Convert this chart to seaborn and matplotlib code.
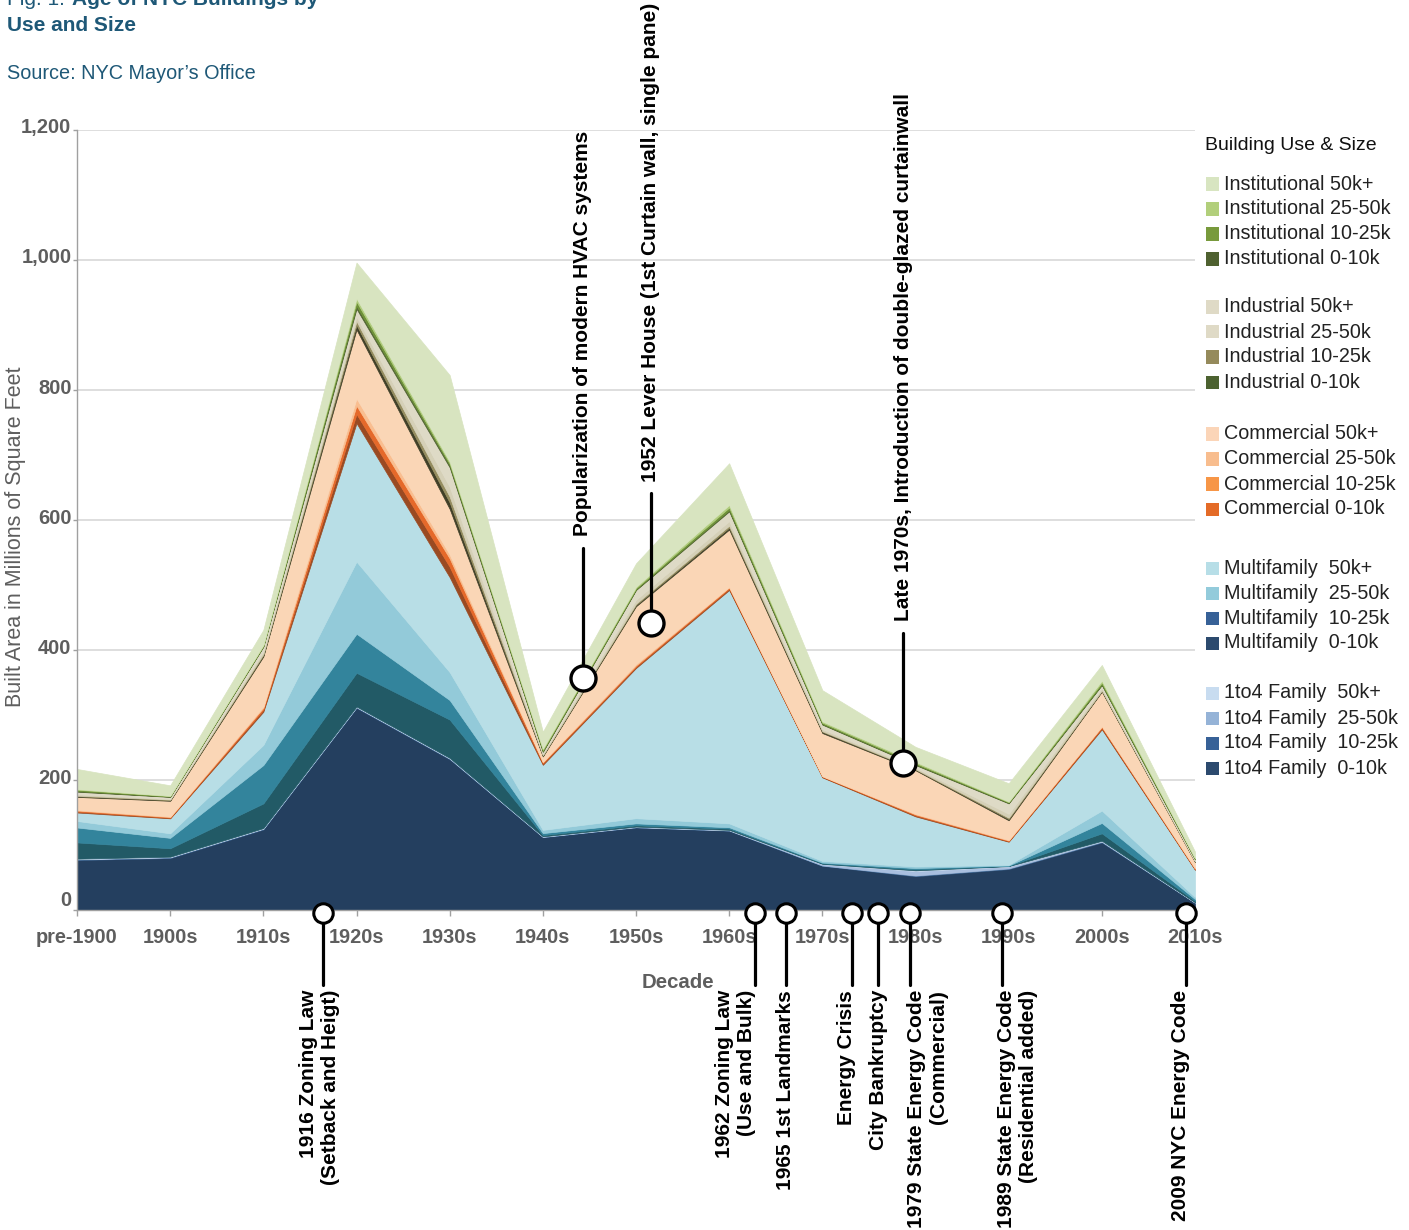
import numpy as np
import matplotlib
matplotlib.use("Agg")
import matplotlib.pyplot as plt
import matplotlib.transforms as mtransforms
from matplotlib.patches import Rectangle
import seaborn as sns

# decades on the x axis
decades = ["pre-1900", "1900s", "1910s", "1920s", "1930s", "1940s", "1950s",
           "1960s", "1970s", "1980s", "1990s", "2000s", "2010s"]

# built area, millions of sq ft, bottom layer first
fam_0_10 = [77, 80, 124, 311, 232, 112, 127, 122, 68, 52, 63, 104, 11]
fam_10_25 = [1, 1, 1, 1, 1, 0.5, 0.5, 0.5, 0.5, 1, 1, 1, 0.3]
fam_25_50 = [0.5, 0.5, 0.5, 0.5, 0.5, 0.5, 0.5, 0.5, 2, 7, 3, 1, 0.3]
fam_50k = [0.5, 0.5, 0.5, 0.5, 0.5, 0.3, 0.3, 0.3, 0.5, 1, 0.5, 0.5, 0.2]

multi_0_10 = [25, 13, 38, 52, 59, 2, 2, 2, 1, 1.5, 0.5, 11.5, 2]
multi_10_25 = [23, 16, 59, 60, 30, 3, 3, 2, 1, 2, 0.5, 16, 3]
multi_25_50 = [10, 7, 31, 111, 43, 5, 8, 6, 2.5, 2.5, 1, 19, 3]
multi_50k = [13, 23, 51, 213, 146, 100, 231, 359, 128.5, 77, 35.5, 125, 42]

comm_0_10 = [1.5, 1, 3, 14, 16, 2, 2, 2, 1, 1.5, 1, 2, 1]
comm_10_25 = [1.5, 1, 3, 13, 13, 2, 2, 2, 0.7, 1.5, 1, 2, 1]
comm_25_50 = [1, 1, 2, 11, 6, 1, 2, 1, 0.5, 1, 1, 1, 1]
comm_50k = [20, 24, 77, 106, 70, 8, 89, 88, 66, 67, 30, 53, 9]

ind_0_10 = [1, 1, 2, 7, 10, 1, 2, 3, 2, 1, 2, 1, 0.5]
ind_10_25 = [1, 1, 2, 6, 9, 1, 2, 3, 1, 1, 2, 1, 0.5]
ind_25_50 = [2, 1, 4, 7, 15, 2, 6, 7, 3, 2, 6, 3, 1]
ind_50k = [4, 3, 7, 12, 30, 3, 15, 15, 7, 4, 16, 5, 2]

inst_0_10 = [1, 0.5, 1, 4, 3, 1, 1, 2, 1, 1, 1, 1, 0.5]
inst_10_25 = [2, 0.8, 1, 7, 3, 2, 2, 4, 2, 2, 1, 3, 1]
inst_25_50 = [1, 0.5, 1, 5, 3, 2, 2, 4, 2, 2, 1, 3, 0.5]
inst_50k = [31, 16, 23, 55, 133, 26, 36, 64, 48, 23, 28, 24, 10]

# events
top_event_pos = [5.43, 6.16, 8.87]
top_event_val = [357, 441, 226]
top_event_labels = ["Popularization of modern HVAC systems",
                    "1952 Lever House (1st Curtain wall, single pane)",
                    "Late 1970s, Introduction of double-glazed curtainwall"]

bottom_event_pos = [2.64, 7.28, 7.61, 8.32, 8.60, 8.94, 9.93, 11.9]
bottom_text_dx = [-3, -20, 0, -6, 0, 18, 15, -5]   # px shift of the label
bottom_event_labels = ["1916 Zoning Law\n(Setback and Heigt)",
                       "1962 Zoning Law\n(Use and Bulk)",
                       "1965 1st Landmarks",
                       "Energy Crisis",
                       "City Bankruptcy",
                       "1979 State Energy Code\n(Commercial)",
                       "1989 State Energy Code\n(Residential added)",
                       "2009 NYC Energy Code"]

# legend
group_names = ["Institutional", "Industrial", "Commercial", "Multifamily ", "1to4 Family "]
size_names = ["50k+", "25-50k", "10-25k", "0-10k"]
group_tops = [184, 307, 434, 568, 693]
legend_colors = ["#d8e5c1", "#b2cf7b", "#789a3c", "#4f6130",
                 "#dfdac6", "#dfdac6", "#958a5b", "#4c6230",
                 "#fbd5b8", "#f8bd8e", "#f79647", "#e46b27",
                 "#b7dee7", "#93cbdb", "#376197", "#2c4a6e",
                 "#c8dcf0", "#95b3d7", "#376197", "#2c4a6e"]

fill_colors = ["#243f5f", "#3a6491", "#a9bfdf", "#c8daee",
               "#225a66", "#33849c", "#93cad9", "#b8dee6",
               "#9a4a22", "#e5692a", "#f9be90", "#fad6b6",
               "#403f27", "#958d5f", "#d5d0b7", "#dedac6",
               "#4e6130", "#6e9138", "#b1cd7e", "#d8e4c0"]

layers = [fam_0_10, fam_10_25, fam_25_50, fam_50k,
          multi_0_10, multi_10_25, multi_25_50, multi_50k,
          comm_0_10, comm_10_25, comm_25_50, comm_50k,
          ind_0_10, ind_10_25, ind_25_50, ind_50k,
          inst_0_10, inst_10_25, inst_25_50, inst_50k]

sns.set_theme(style="white")
plt.rcParams["font.family"] = ["Liberation Sans", "DejaVu Sans"]

W, H = 1409, 1230
fig = plt.figure(figsize=(W / 100, H / 100), dpi=100)
ax = fig.add_axes([77 / W, 1 - 910 / H, 1118 / W, 780 / H])

x = np.arange(len(decades))
polys = ax.stackplot(x, *layers, colors=sns.color_palette(fill_colors))
for p, c in zip(polys, fill_colors):
    p.set_edgecolor(c)
    p.set_linewidth(0.5)

ax.set_xlim(0, 12)
ax.set_ylim(0, 1200)
ax.set_axisbelow(True)
ax.yaxis.grid(True, color="#d4d4d4", lw=1.1)
ax.xaxis.grid(False)
for s in ["top", "right"]:
    ax.spines[s].set_visible(False)
for s in ["left", "bottom"]:
    ax.spines[s].set_color("#a0a0a0")
    ax.spines[s].set_linewidth(1)

tick_grey = "#5e5e5e"
ax.set_yticks(range(0, 1201, 200))
ax.set_yticklabels([f"{v:,}" for v in range(0, 1201, 200)])
ax.set_xticks(x)
ax.set_xticklabels(decades)
ax.tick_params(axis="y", left=True, length=3, width=1, color="#a0a0a0", pad=1,
               labelsize=14.5, labelcolor=tick_grey)
ax.tick_params(axis="x", bottom=True, length=4, width=1, color="#a0a0a0", pad=9,
               labelsize=14.3, labelcolor=tick_grey)
for lbl in ax.get_yticklabels() + ax.get_xticklabels():
    lbl.set_fontweight("bold")
for i, lbl in enumerate(ax.get_yticklabels()):
    up = 12 if i == 0 else 4
    lbl.set_transform(lbl.get_transform() + mtransforms.ScaledTranslation(0, up / 100, fig.dpi_scale_trans))

# top event markers
for pos, val, label in zip(top_event_pos, top_event_val, top_event_labels):
    ax.plot([pos, pos], [val, val + 200], color="black", lw=2.3, clip_on=False, zorder=5)
    ax.plot(pos, val, "o", ms=18, mfc="white", mec="black", mew=2.4, clip_on=False, zorder=6)
    ax.text(pos, val + 218, label, rotation=90, ha="center", va="bottom",
            fontsize=15, fontweight="bold", color="black")

# bottom event markers
for pos, dx, label in zip(bottom_event_pos, bottom_text_dx, bottom_event_labels):
    ax.plot([pos, pos], [-5, -115], color="black", lw=2.3, clip_on=False, zorder=5)
    ax.plot(pos, -5, "o", ms=14, mfc="white", mec="black", mew=2.2, clip_on=False, zorder=6)
    ax.annotate(label, xy=(pos, -123), xytext=(dx * 0.72, 0), textcoords="offset points",
                rotation=90, ha="center", va="top", multialignment="right",
                fontsize=15, fontweight="bold", color="black", annotation_clip=False)

# axis titles
fig.text(16 / W, 1 - 537 / H, "Built Area in Millions of Square Feet", rotation=90,
         ha="center", va="center", fontsize=15.5, color=tick_grey)
fig.text(678 / W, 1 - 982 / H, "Decade", ha="center", va="center",
         fontsize=14.7, fontweight="bold", color=tick_grey)

# title block (first line is cut by the top edge, as in the source)
title_blue = "#1e5877"
fig.text(7 / W, 1 - 5 / H, "Fig. 1:", fontsize=15, color=title_blue, va="baseline")
fig.text(72 / W, 1 - 5 / H, "Age of NYC Buildings by", fontsize=15, fontweight="bold",
         color=title_blue, va="baseline")
fig.text(7 / W, 1 - 31 / H, "Use and Size", fontsize=15, fontweight="bold",
         color=title_blue, va="baseline")
fig.text(7 / W, 1 - 79 / H, "Source: NYC Mayor\u2019s Office", fontsize=14.3,
         color=title_blue, va="baseline")

# legend
fig.text(1205 / W, 1 - 145 / H, "Building Use & Size", fontsize=14, ha="left",
         va="center", color="#111111")
for gi, (group, top) in enumerate(zip(group_names, group_tops)):
    for si, size in enumerate(size_names):
        yy = top + si * 25
        fig.add_artist(Rectangle((1206 / W, 1 - (yy + 6.5) / H), 13 / W, 13 / H,
                                 transform=fig.transFigure,
                                 facecolor=legend_colors[gi * 4 + si], edgecolor="none"))
        fig.text(1224 / W, 1 - yy / H, f"{group} {size}", fontsize=14.2, ha="left",
                 va="center", color="#222222")

fig.savefig("out.png", dpi=100)
